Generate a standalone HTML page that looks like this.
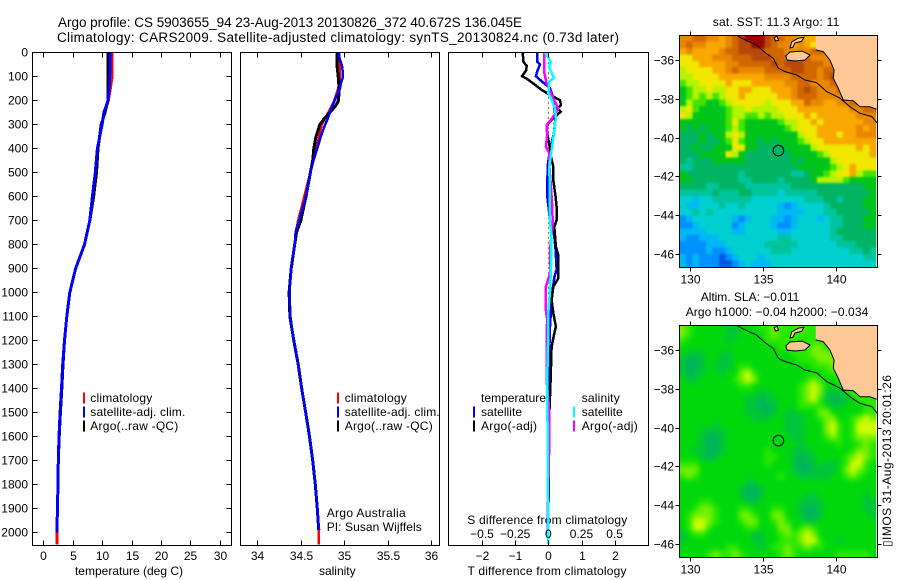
<!DOCTYPE html>
<html>
<head>
<meta charset="utf-8">
<title>Argo profile</title>
<style>
html,body{margin:0;padding:0;background:#fff;}
svg{display:block;}
text{font-family:"Liberation Sans",sans-serif;font-size:12px;fill:#000;}
.t{font-size:13.5px;}
</style>
</head>
<body>
<svg id="fig" xmlns="http://www.w3.org/2000/svg" width="900" height="580" viewBox="0 0 900 580">
<defs>
<filter id="blurSst" x="0" y="0" width="1" height="1" color-interpolation-filters="sRGB"><feGaussianBlur stdDeviation="1"/></filter>
<filter id="blurSla" x="0" y="0" width="1" height="1" color-interpolation-filters="sRGB"><feGaussianBlur stdDeviation="2.6"/></filter>
<clipPath id="clipSst"><rect x="679.5" y="35" width="196.8" height="232.5"/></clipPath>
<clipPath id="clipSla"><rect x="679.5" y="325" width="196.8" height="232.5"/></clipPath>
</defs>
<rect x="0" y="0" width="900" height="580" fill="#fff"/>
<text class="t" x="58" y="27" textLength="464">Argo profile: CS 5903655_94 23-Aug-2013 20130826_372 40.672S 136.045E</text>
<text class="t" x="57" y="42" textLength="562">Climatology: CARS2009. Satellite-adjusted climatology: synTS_20130824.nc (0.73d later)</text>
<text x="712.7" y="26" textLength="126.6">sat. SST: 11.3  Argo: 11</text>
<text x="700.7" y="301" textLength="98.6">Altim. SLA: −0.011</text>
<text x="685.7" y="316" textLength="182.6">Argo h1000: −0.04 h2000: −0.034</text>
<text x="129" y="575" text-anchor="middle">temperature (deg C)</text>
<text x="337.3" y="575" text-anchor="middle">salinity</text>
<text x="547" y="575" text-anchor="middle" textLength="159">T difference from climatology</text>
<text x="467.3" y="524" textLength="160">S difference from climatology</text>
<text x="326.7" y="517" textLength="79">Argo Australia</text>
<text x="326.7" y="531" textLength="95">PI: Susan Wijffels</text>
<text transform="translate(891,547) rotate(-90)" textLength="172">▯IMOS 31-Aug-2013 20:01:26</text>
</svg>
<script>
/* ---------- depth axis ---------- */
var depthTicks = [0,100,200,300,400,500,600,700,800,900,1000,1100,1200,1300,1400,1500,1600,1700,1800,1900,2000];
var tempTicks = [0,5,10,15,20,25,30];
var salTicks = ["34","34.5","35","35.5","36"];
var dTTicks = [-2,-1,0,1,2];
var dSTicks = [-0.5,-0.25,0,0.25,0.5];
var lonTicks = [130,135,140];
var latTicks = [-36,-38,-40,-42,-44,-46];

/* ---------- temperature profile ---------- */
var tempClimDepth = [0,50,100,150,200,250,300,400,500,600,700,800,900,1000,1100,1200,1300,1400,1500,1600,1700,1800,1900,2000,2050];
var tempClimValue = [11.7,11.7,11.7,11.4,11.05,10.4,9.95,9.25,8.9,8.4,7.9,7.0,5.5,4.5,4.0,3.6,3.3,3.1,2.85,2.67,2.55,2.5,2.4,2.33,2.3];
var tempArgoDepth = [0,100,200,250,300,400,500,600,700,800,900,1000,1100,1200,1300,1400,1500,1600,1700,1800,1900,2000];
var tempArgoValue = [11.0,11.0,11.0,10.5,9.85,9.3,9.05,8.55,7.9,7.0,5.5,4.5,4.0,3.6,3.35,3.15,2.9,2.7,2.55,2.5,2.4,2.33];
var tempSatDepth = [0,50,100,150,200,250,300,400,500,600,700,800,900,1000,1100,1200,1300,1400,1500,1600,1700,1800,1900,2000];
var tempSatValue = [11.35,11.35,11.3,11.2,11.0,10.3,10.0,9.2,8.85,8.35,7.9,7.0,5.5,4.5,4.0,3.6,3.3,3.1,2.85,2.67,2.55,2.5,2.4,2.33];

/* ---------- salinity profile ---------- */
var salClimDepth = [0,100,150,200,250,300,350,400,500,600,700,750,800,900,1000,1100,1200,1300,1400,1500,1600,1700,1800,1900,2000,2050];
var salClimValue = [34.94,34.95,34.93,34.885,34.816,34.74,34.71,34.68,34.61,34.54,34.47,34.44,34.43,34.39,34.37,34.38,34.42,34.47,34.51,34.556,34.6,34.637,34.667,34.69,34.706,34.706];
var salArgoDepth = [0,50,100,150,200,220,250,280,300,350,400,450,500,600,700,750,800,900,1000,1100,1200,1300,1400,1500,1600,1700,1800,1900,1990];
var salArgoValue = [34.92,34.915,34.93,34.94,34.935,34.905,34.835,34.76,34.72,34.675,34.65,34.637,34.61,34.56,34.5,34.45,34.43,34.39,34.365,34.375,34.42,34.47,34.51,34.556,34.6,34.637,34.667,34.69,34.706];
var salSatDepth = [0,30,60,100,130,150,180,200,230,250,280,300,350,400,450,500,600,700,750,800,900,1000,1100,1200,1300,1400,1500,1600,1700,1800,1900,1990];
var salSatValue = [34.93,34.95,34.977,34.985,34.96,34.95,34.91,34.89,34.855,34.835,34.805,34.78,34.73,34.69,34.645,34.61,34.56,34.48,34.44,34.43,34.39,34.37,34.38,34.42,34.47,34.51,34.556,34.6,34.637,34.667,34.69,34.71];

/* ---------- differences from climatology ---------- */
var dTArgoDepth = [0,38,56,75,98,114,156,177,198,219,233,247,268,295,312,344,400,434,476,532,601,643,698,726,809,844,941,976,1031,1086,1142,1170,1226,1365,1510,1800,2050];
var dTArgoValue = [-0.77,-0.75,-0.65,-0.67,-0.79,-0.60,-0.20,0.05,0.35,0.38,0.27,0.37,0.20,0,-0.05,-0.02,0.05,0.08,0.15,0.15,0.22,0.25,0.25,0.18,0.23,0.30,0.30,0.15,0.10,0.15,0.23,0.18,0.10,0.07,0.03,0.01,0];
var dTSatDepth = [0,38,50,78,99,120,148,177,205,268,337,406,476,601,698,753,823,903,938,990,1073,1142,1240,1365,1800,2050];
var dTSatValue = [-0.33,-0.33,-0.25,-0.33,-0.37,-0.20,0.05,0.12,0.15,0.22,0.17,0.05,-0.02,-0.03,0.05,0.17,0.22,0.25,0.18,0.13,0.08,0.05,0.03,0.01,0,0];
var dSArgoDepth = [0,85,127,177,233,268,302,344,392,420,476,545,643,712,823,920,976,1073,1115,1170,1365,1500,1600,1950,2050];
var dSArgoValue = [-0.03,-0.03,-0.013,0.025,0.075,0.038,-0.013,-0.008,-0.018,0.008,0.008,0.018,0.03,0.033,0.013,0.013,-0.018,-0.018,-0.008,-0.013,-0.013,0.008,0.008,-0.005,0];
var dSSatDepth = [0,38,59,107,120,170,191,233,268,337,406,476,698,753,892,990,1087,1170,1365,1590,2050];
var dSSatValue = [-0.025,0.018,0.005,0.043,0.008,0,0.02,0.05,0.058,0.043,0.025,0.008,0.013,0.02,0.02,0.013,0,0,-0.008,-0.005,0];

/* ---------- map geography ---------- */
var shelfLon = [133.25,133.88,134.57,135.13,135.7,136.04,136.5,137.29,137.86,138.66,139.34,140.25,140.93,141.61,142.41,142.79];
var shelfLat = [-34.76,-35.0,-35.23,-35.62,-35.91,-36.43,-36.6,-36.77,-37.03,-37.17,-37.63,-37.97,-38.41,-38.75,-38.92,-39.26];
var coastLon = [138.59,138.59,139.11,139.56,139.84,139.79,140.13,140.47,141.15,141.61,142.29,142.75,142.85,142.85];
var coastLat = [-34.71,-35.48,-35.57,-36,-36.52,-36.94,-37.46,-38.06,-38.1,-38.41,-38.41,-38.54,-38.54,-34.71];
var kangarooLon = [136.56,136.84,137.66,138.2,137.86,137.18,136.63];
var kangarooLat = [-35.79,-35.59,-35.54,-35.74,-36,-36.05,-36];
var yorkeLon = [136.84,136.95,137.4,137.79,137.63,137.18,137.02];
var yorkeLat = [-35.38,-35.07,-34.87,-34.83,-35.04,-35.12,-35.35];
var eyreLon = [135.75,135.95,136.05,135.85];
var eyreLat = [-34.85,-34.78,-34.98,-35.02];
var argoLon = [136.045];
var argoLat = [-40.672];

/* ---------- SST colour-level grid (north to south) ---------- */
var sstGrid = [
[11,11,12,12,11,11,10,11,12,13,14,14,14,13,12,12,11,11,10,10,10,10,11,11,11,11,11,11,11,11],
[11,12,11,11,10,10,10,11,12,13,13,14,14,13,12,11,11,10,11,10,9,10,11,11,11,11,11,11,11,11],
[10,11,10,10,10,10,11,12,12,13,13,13,13,12,12,12,11,11,11,11,12,12,11,11,11,11,11,11,11,11],
[9,9,10,10,10,11,11,11,12,12,12,13,13,13,12,12,12,13,12,12,11,11,11,12,11,11,11,11,11,11],
[9,9,9,10,10,10,10,11,11,12,12,12,12,12,13,12,13,13,13,12,12,12,11,11,11,11,11,11,11,11],
[8,9,9,9,9,10,10,11,12,11,11,11,11,12,12,12,12,13,13,12,12,11,12,12,12,11,11,11,11,11],
[8,8,9,9,9,9,10,10,10,10,10,10,10,11,11,11,11,12,12,12,12,11,12,13,12,11,11,11,11,11],
[7,8,8,9,9,9,9,10,9,9,9,10,10,10,10,10,11,11,12,12,11,11,11,12,13,12,11,11,11,11],
[6,7,8,8,9,8,8,9,9,10,10,9,9,9,10,10,10,11,12,13,12,11,11,11,12,13,12,11,11,11],
[6,7,8,7,8,7,8,9,9,10,9,9,9,9,9,10,10,11,12,12,12,11,11,11,11,12,13,12,12,12],
[6,8,7,7,6,6,7,8,9,9,9,9,9,8,9,9,9,10,10,12,11,11,10,10,11,11,12,12,12,13],
[8,9,7,6,6,6,6,7,8,8,9,8,8,8,8,9,9,9,10,10,10,10,10,10,10,10,11,11,12,12],
[9,8,6,6,6,6,6,7,8,8,7,7,8,7,8,8,9,9,9,10,9,10,10,10,10,10,10,11,11,11],
[6,6,6,6,6,6,6,7,9,7,6,6,6,6,6,7,8,8,9,9,10,9,10,10,10,10,10,10,11,11],
[6,5,6,5,6,6,6,7,8,7,6,6,6,6,6,6,7,8,9,9,9,10,10,10,10,10,10,11,10,11],
[5,5,5,6,5,6,6,8,9,8,6,6,6,6,6,6,6,6,8,9,9,10,10,10,9,10,10,11,11,11],
[5,5,5,6,5,5,6,7,9,7,6,6,5,6,5,6,6,6,7,8,9,9,10,10,10,10,10,10,10,10],
[5,5,6,5,5,6,6,6,9,9,6,6,5,5,5,5,6,6,6,6,8,9,9,9,9,9,9,10,9,10],
[5,5,5,6,6,6,6,9,8,6,5,5,5,5,5,5,5,6,6,6,6,7,8,9,9,9,9,9,9,10],
[5,4,5,5,5,6,6,6,6,6,5,5,5,5,5,5,5,6,5,6,6,6,6,8,9,9,9,9,9,9],
[4,4,5,5,5,5,5,5,5,5,5,5,5,5,5,5,5,5,6,6,6,6,6,7,8,9,10,9,9,9],
[6,5,5,5,5,5,5,5,5,4,5,5,5,5,5,5,5,4,4,5,6,6,7,8,9,9,10,8,7,7],
[6,6,5,5,5,5,5,5,5,4,4,5,5,5,5,4,5,5,5,5,6,8,8,8,8,7,6,6,6,6],
[5,5,5,5,4,4,5,5,5,5,4,4,4,4,4,4,4,5,5,5,5,5,5,5,5,5,5,5,6,6],
[4,4,4,4,4,5,4,4,4,5,5,4,4,4,4,3,4,4,4,4,4,5,5,5,5,5,5,5,5,6],
[3,3,2,3,3,4,4,4,4,4,4,3,3,3,3,3,3,3,3,4,4,4,5,5,4,5,5,5,6,6],
[3,2,2,3,3,3,4,3,3,4,3,3,3,3,3,2,1,2,3,3,3,3,4,5,5,5,5,5,6,6],
[3,3,4,3,4,3,3,3,3,3,3,3,3,3,3,2,2,2,2,3,3,3,4,4,5,5,5,5,5,6],
[1,2,3,3,3,3,3,3,2,1,2,3,3,3,2,2,1,2,3,3,3,2,3,4,4,5,5,5,6,6],
[1,1,2,3,3,3,3,3,1,2,3,3,3,3,2,1,1,2,3,3,3,3,3,4,4,5,5,5,6,6],
[2,2,2,2,3,3,3,3,2,2,3,3,3,3,3,2,2,3,3,3,3,3,3,4,5,5,5,5,5,5],
[2,1,1,2,2,2,3,3,3,3,3,3,3,3,3,4,4,3,3,3,3,3,3,4,4,5,5,5,5,5],
[1,1,1,1,2,2,2,3,3,3,3,3,3,4,4,4,4,4,3,3,3,3,3,3,4,4,4,5,5,5],
[1,1,1,1,2,1,1,2,3,3,3,3,3,3,4,4,4,3,3,3,3,3,3,3,3,3,4,4,5,4],
[2,1,2,1,1,1,0,1,2,3,3,3,2,3,3,3,3,3,3,3,3,3,3,3,3,3,3,3,4,4],
[2,1,2,1,1,1,0,0,1,2,3,2,2,2,3,3,3,3,3,3,3,3,3,3,3,3,3,3,3,3]
];

/* ---------- SLA colour-level grid (north to south) ---------- */
var slaGrid = [
[4,3,2,2,2,2,2,1,1,2,2,2,3,3,4,3,3,3,4,3,3,3,3,3,3,3,3,3,3,3],
[4,3,2,2,2,2,2,1,1,2,2,2,2,3,4,3,3,3,3,3,3,3,3,3,3,3,3,3,3,3],
[3,2,2,2,2,2,2,1,2,2,2,2,2,3,3,3,3,3,3,3,3,3,3,3,3,3,3,3,3,3],
[2,2,2,2,2,2,2,2,2,2,2,2,2,2,2,3,3,3,3,3,4,4,3,3,3,3,3,3,3,3],
[2,1,1,1,2,2,1,1,2,2,2,2,2,2,2,2,2,3,3,3,4,4,4,4,3,3,3,3,3,3],
[1,0,0,1,2,2,1,1,2,2,2,2,2,2,2,2,2,2,3,3,3,4,4,4,4,3,3,3,3,3],
[1,0,0,1,2,1,1,1,2,3,3,2,2,2,2,2,2,2,2,2,3,3,3,4,4,3,3,3,3,3],
[1,0,1,1,2,2,1,2,2,4,5,3,2,2,2,2,2,2,2,2,2,2,3,3,4,4,3,3,3,3],
[2,1,1,2,2,2,2,2,3,4,5,4,2,2,2,2,2,2,2,3,4,3,2,2,3,4,3,3,3,3],
[2,2,2,2,2,2,2,2,2,3,3,2,2,2,2,2,2,2,3,4,5,4,2,2,2,3,4,3,3,3],
[2,2,2,2,2,2,2,2,2,2,2,2,1,1,2,2,2,2,3,4,5,4,1,1,1,2,3,4,3,3],
[2,2,2,2,2,2,2,2,2,2,1,1,0,1,1,2,2,2,3,4,5,3,1,0,0,1,2,3,3,3],
[2,2,2,2,2,2,2,2,2,2,1,1,0,0,1,2,2,2,3,3,3,3,2,1,1,2,2,2,3,3],
[2,2,2,2,2,2,2,2,2,2,1,1,1,0,1,2,1,1,2,2,2,4,4,2,2,2,2,2,3,3],
[2,2,2,2,2,2,2,2,2,2,2,1,1,1,2,2,1,1,1,2,2,3,4,4,2,2,3,4,5,4],
[2,2,2,2,2,1,2,2,2,2,2,2,2,2,2,2,1,1,1,2,2,2,4,5,3,2,3,5,5,5],
[2,2,2,1,1,1,1,2,2,2,2,2,2,2,2,2,1,1,1,2,2,2,4,5,3,2,3,5,5,5],
[2,2,2,1,0,0,1,2,2,2,2,2,2,2,2,2,2,1,1,2,2,2,3,4,3,2,3,4,4,4],
[2,2,2,1,0,0,1,2,2,2,2,2,2,2,2,2,2,2,1,2,2,2,2,2,3,2,2,3,4,3],
[2,2,1,1,0,0,1,2,2,2,2,2,2,3,2,2,2,1,1,1,2,2,2,2,2,2,3,4,4,3],
[2,2,2,1,0,1,2,2,2,2,2,2,2,3,3,2,2,1,0,1,1,2,2,2,2,3,4,5,4,3],
[3,3,3,2,2,2,2,2,2,2,2,2,2,3,2,2,2,1,0,0,1,2,1,1,2,3,5,5,3,2],
[4,4,4,2,2,2,2,2,2,2,2,2,2,2,2,2,2,1,0,0,1,1,1,1,2,4,5,4,3,2],
[3,4,3,2,2,2,2,2,2,2,2,2,2,2,2,3,2,2,1,1,1,1,1,2,2,3,4,3,2,2],
[2,2,2,2,2,2,2,2,2,2,1,1,2,2,2,2,2,2,2,2,2,2,2,2,2,2,2,2,2,2],
[2,2,2,2,2,2,2,2,2,1,0,0,1,2,2,2,2,2,2,2,2,2,2,2,2,2,2,2,2,2],
[2,2,2,2,2,2,2,2,2,1,0,0,1,2,2,2,2,2,2,1,1,2,2,2,2,2,2,2,1,2],
[2,2,2,3,3,2,2,2,2,2,1,1,2,2,2,2,2,2,1,1,1,1,2,2,2,2,2,2,1,1],
[2,2,3,4,4,3,2,2,2,3,3,2,2,2,3,3,2,2,1,0,0,1,2,2,2,2,2,2,1,1],
[2,3,4,4,4,3,2,2,2,4,4,3,2,2,4,4,2,2,1,0,0,1,2,2,2,2,2,2,2,1],
[2,3,5,5,4,3,2,2,2,3,4,4,2,2,3,4,3,2,2,1,1,2,2,2,2,2,2,2,2,2],
[2,3,5,5,3,2,2,2,2,2,3,3,2,2,2,4,4,2,3,4,3,2,2,2,2,2,2,2,2,2],
[1,2,3,3,2,2,2,2,2,2,2,1,1,2,2,3,4,3,4,5,4,2,2,2,2,2,2,2,2,2],
[1,2,2,2,2,2,2,2,2,2,2,1,1,2,2,3,3,3,4,5,5,3,2,2,1,2,2,2,2,2],
[2,2,2,2,2,2,2,3,3,2,2,2,1,2,3,3,4,3,3,4,3,3,2,2,2,2,2,2,2,2],
[2,2,2,2,3,4,3,3,4,3,2,2,2,2,2,3,4,3,2,2,2,2,2,2,3,3,3,3,3,2]
];

/* ---------- rendering ---------- */
var sstPalette = ['#0058e8','#0090ff','#00b8f4','#00d0d0','#00c49c','#00b464','#00c41c','#44e400','#b4f400','#f0e800','#f8a800','#e88800','#d06800','#b84808','#a00000'];
var slaPalette = ['#00b45c','#00c43c','#00d80c','#28e800','#78f000','#d0fc00'];
var NS = 'http://www.w3.org/2000/svg';
var fig = document.getElementById('fig');

function depthY(d){ return 52.5 + 0.24 * d; }
function tempX(t){ return 43.3 + 5.88 * t; }
function salX(s){ return 257.3 + 87 * (s - 34); }
function dTX(v){ return 548.3 + 33.2 * v; }
function dSX(v){ return 548.3 + 132.6 * v; }
function lonX(lon){ return 689.7 + 14.67 * (lon - 130); }
function latY(lat, y36){ return y36 + 19.4 * (-36 - lat); }

function add(parent, tag, attrs, txt){
  var el = document.createElementNS(NS, tag);
  for (var k in attrs) el.setAttribute(k, attrs[k]);
  if (txt !== undefined) el.textContent = txt;
  parent.appendChild(el);
  return el;
}
function group(name){
  var g = document.createElementNS(NS, 'g');
  
  
  fig.appendChild(g);
  return g;
}
function seriesLine(parent, name, depths, values, xf, color, width){
  var pts = depths.map(function(d, i){ return xf(values[i]).toFixed(1) + ',' + depthY(d).toFixed(1); });
  var el = add(parent, 'polyline', {points: pts.join(' '), fill: 'none', stroke: color, 'stroke-width': width, 'shape-rendering': 'crispEdges', 'stroke-linejoin': 'miter'});
  
  
  return el;
}
function frame(parent, name, x, y, w, h){
  var el = add(parent, 'rect', {x: x, y: y, width: w, height: h, fill: 'none', stroke: '#000', 'stroke-width': 1, 'shape-rendering': 'crispEdges'});
  
  
}
function tick(parent, x1, y1, x2, y2){
  var el = add(parent, 'line', {x1: x1, y1: y1, x2: x2, y2: y2, stroke: '#000', 'stroke-width': 1, 'shape-rendering': 'crispEdges'});
  
  
}
function label(parent, name, x, y, str, anchor, len){
  var el = add(parent, 'text', {x: x, y: y, 'text-anchor': anchor || 'start'}, str);
  if (len) el.setAttribute('textLength', len);
  
  
  return el;
}
function legendItem(parent, sx, tx, yc, color, str, len){
  var sw = add(parent, 'rect', {x: sx, y: yc - 5.5, width: 2, height: 11, fill: color, 'shape-rendering': 'crispEdges'});
  
  
  label(parent, 'legend-label', tx, yc + 4, str, 'start', len);
}
function minus(v){ return String(v).replace('-', '\u2212'); }

/* --- temperature panel --- */
var p1 = group('temperature-panel');
seriesLine(p1, 'temperature-climatology-line', tempClimDepth, tempClimValue, tempX, '#ff0000', 3);
seriesLine(p1, 'temperature-argo-line', tempArgoDepth, tempArgoValue, tempX, '#000000', 3);
seriesLine(p1, 'temperature-satellite-line', tempSatDepth, tempSatValue, tempX, '#0000ff', 3);
frame(p1, 'temperature-panel-frame', 32.5, 52.5, 199, 493);
depthTicks.forEach(function(d){
  var y = Math.round(depthY(d) - 0.5) + 0.5;
  tick(p1, 32.5, y, 37.5, y);
  tick(p1, 231.5, y, 226.5, y);
  label(p1, 'depth-tick-label', 28, y + 4, String(d), 'end');
});
tempTicks.forEach(function(t){
  var x = Math.round(tempX(t)) + 0.5;
  tick(p1, x, 52.5, x, 57.5);
  tick(p1, x, 545.5, x, 540.5);
  label(p1, 'temperature-tick-label', x, 560, String(t), 'middle');
});
legendItem(p1, 83, 90.3, 398, '#ff0000', 'climatology', 62);
legendItem(p1, 83, 90.3, 412, '#0000ff', 'satellite-adj. clim.', 95);
legendItem(p1, 83, 90.3, 426, '#000000', 'Argo(..raw -QC)', 88);

/* --- salinity panel --- */
var p2 = group('salinity-panel');
seriesLine(p2, 'salinity-climatology-line', salClimDepth, salClimValue, salX, '#ff0000', 2.5);
seriesLine(p2, 'salinity-argo-line', salArgoDepth, salArgoValue, salX, '#000000', 3);
seriesLine(p2, 'salinity-satellite-line', salSatDepth, salSatValue, salX, '#0000ff', 2.5);
frame(p2, 'salinity-panel-frame', 240.5, 52.5, 199, 493);
salTicks.forEach(function(s){
  var x = Math.round(salX(Number(s))) + 0.5;
  tick(p2, x, 52.5, x, 57.5);
  tick(p2, x, 545.5, x, 540.5);
  label(p2, 'salinity-tick-label', x, 560, s, 'middle');
});
legendItem(p2, 337, 344.7, 398, '#ff0000', 'climatology', 62);
legendItem(p2, 337, 344.7, 412, '#0000ff', 'satellite-adj. clim.', 95);
legendItem(p2, 337, 344.7, 426, '#000000', 'Argo(..raw -QC)', 88);

/* --- difference panel --- */
var p3 = group('difference-panel');
var zero = add(p3, 'line', {x1: dTX(0), y1: depthY(0), x2: dTX(0), y2: 545, stroke: '#000', 'stroke-width': 1, 'stroke-dasharray': '1 4', 'shape-rendering': 'crispEdges'});


seriesLine(p3, 'dt-satellite-line', dTSatDepth, dTSatValue, dTX, '#0000ff', 2.5);
seriesLine(p3, 'dt-argo-line', dTArgoDepth, dTArgoValue, dTX, '#000000', 2.5);
seriesLine(p3, 'ds-argo-line', dSArgoDepth, dSArgoValue, dSX, '#ff00ff', 2.5);
seriesLine(p3, 'ds-satellite-line', dSSatDepth, dSSatValue, dSX, '#00ffff', 2.5);
frame(p3, 'difference-panel-frame', 448.5, 52.5, 200, 493);
dTTicks.forEach(function(v){
  var x = Math.round(dTX(v)) + 0.5;
  tick(p3, x, 52.5, x, 57.5);
  tick(p3, x, 545.5, x, 540.5);
  label(p3, 't-difference-tick-label', x, 560, minus(v), 'middle');
});
dSTicks.forEach(function(v){
  label(p3, 's-difference-tick-label', dSX(v), 538, minus(v), 'middle');
});
label(p3, 'temperature-legend-heading', 481, 402, 'temperature', 'start', 65);
legendItem(p3, 473, 481, 412, '#0000ff', 'satellite', 41);
legendItem(p3, 473, 481, 426, '#000000', 'Argo(-adj)', 56);
label(p3, 'salinity-legend-heading', 581.7, 402, 'salinity', 'start', 38);
legendItem(p3, 573, 581.7, 412, '#00ffff', 'satellite', 41);
legendItem(p3, 573, 581.7, 426, '#ff00ff', 'Argo(-adj)', 56);

/* --- maps --- */
function polyPts(lons, lats, y36){
  return lons.map(function(lon, i){ return lonX(lon).toFixed(1) + ',' + latY(lats[i], y36).toFixed(1); }).join(' ');
}
function drawMap(key, grid, palette, top, y36, filterId, clipId){
  var bottom = top + 232, left = 679.5, right = 877.5;
  var g = group(key + '-map');
  var cols = grid[0].length, rows = grid.length;
  var lonW = 13.38 / cols, latH = 11.96 / rows, latTop = -36 + (y36 - top) / 19.4;
  var clipper = group(key + '-heatmap-clip');
  clipper.setAttribute('clip-path', 'url(#' + clipId + ')');
  g.appendChild(clipper);
  var cells = group(key + '-heatmap');
  cells.setAttribute('filter', 'url(#' + filterId + ')');
  clipper.appendChild(cells);
  var pad = 12;
  grid.forEach(function(row, r){
    row.forEach(function(v, c){
      var x = lonX(129.31 + c * lonW), y = latY(latTop - r * latH, y36);
      var w = lonW * 14.67 + 0.4, h = latH * 19.4 + 0.4;
      if (c === 0) { x -= pad; w += pad; }
      if (c === cols - 1) { w += pad; }
      if (r === 0) { y -= pad; h += pad; }
      if (r === rows - 1) { h += pad; }
      var cell = add(cells, 'rect', {x: x.toFixed(2), y: y.toFixed(2), width: w.toFixed(2), height: h.toFixed(2), fill: palette[v], 'shape-rendering': 'crispEdges'});
      
      
    });
  });
  var land = add(g, 'polygon', {points: polyPts(coastLon, coastLat, y36), fill: '#ffc896', stroke: 'none'});
  
  
  var coast = add(g, 'polyline', {points: polyPts(coastLon.slice(1, 12), coastLat.slice(1, 12), y36), fill: 'none', stroke: '#000', 'stroke-width': 1});
  
  
  var kang = add(g, 'polygon', {points: polyPts(kangarooLon, kangarooLat, y36), fill: '#ffc896', stroke: '#000', 'stroke-width': 1});
  
  
  var yorke = add(g, 'polygon', {points: polyPts(yorkeLon, yorkeLat, y36), fill: '#ffc896', stroke: '#000', 'stroke-width': 1});
  
  
  var eyre = add(g, 'polygon', {points: polyPts(eyreLon, eyreLat, y36), fill: '#ffc896', stroke: '#000', 'stroke-width': 1});
  
  
  var shelf = add(g, 'polyline', {points: polyPts(shelfLon, shelfLat, y36), fill: 'none', stroke: '#000', 'stroke-width': 1});
  
  
  var circle = add(g, 'circle', {cx: lonX(argoLon[0]).toFixed(1), cy: latY(argoLat[0], y36).toFixed(1), r: 5.3, fill: 'none', stroke: '#000', 'stroke-width': 1});
  
  
  frame(g, key + '-map-frame', left, top + 0.5, 198, 232);
  lonTicks.forEach(function(lon){
    var x = Math.round(lonX(lon)) + 0.5;
    tick(g, x, top + 0.5, x, top - 3.5);
    tick(g, x, bottom + 0.5, x, bottom + 4.5);
    label(g, 'longitude-tick-label', x, bottom + 16.5, String(lon), 'middle');
  });
  latTicks.forEach(function(lat){
    var y = Math.round(latY(lat, y36)) + 0.5;
    tick(g, left, y, left - 4, y);
    tick(g, right, y, right + 4, y);
    label(g, 'latitude-tick-label', 674, y + 4, minus(lat), 'end');
  });
}
drawMap('sst', sstGrid, sstPalette, 35, 60, 'blurSst', 'clipSst');
drawMap('sla', slaGrid, slaPalette, 325, 350, 'blurSla', 'clipSla');
</script>
</body>
</html>
